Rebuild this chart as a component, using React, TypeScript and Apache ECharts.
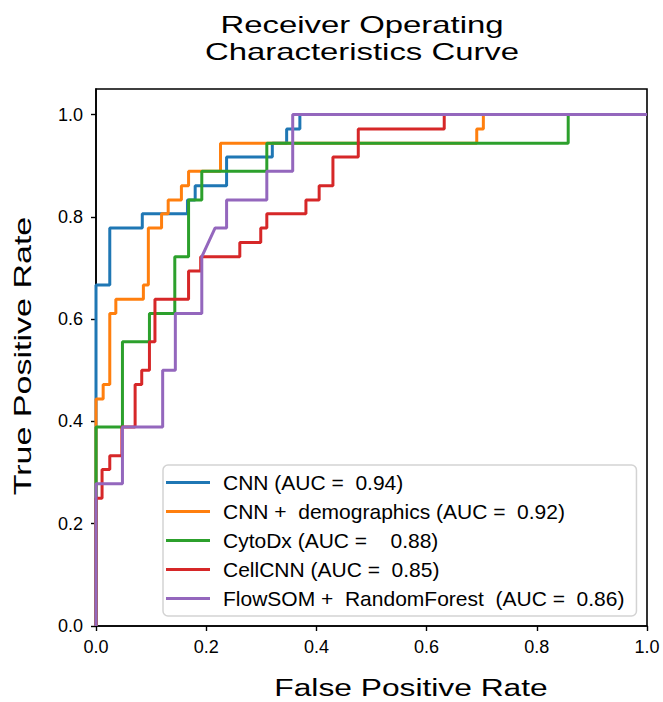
import React, { useEffect, useRef } from "react";
import * as echarts from "echarts";

const FONT = "Liberation Sans, Arial, Helvetica, sans-serif";

const seriesNames = [
  "CNN (AUC =  0.94)",
  "CNN +  demographics (AUC =  0.92)",
  "CytoDx (AUC =    0.88)",
  "CellCNN (AUC =  0.85)",
  "FlowSOM +  RandomForest  (AUC =  0.86)",
];
const seriesColors = ["#1f77b4", "#ff7f0e", "#2ca02c", "#d62728", "#9467bd"];

const cnnFpr = [0, 0, 0.025, 0.025, 0.084, 0.084, 0.166, 0.166, 0.18, 0.18, 0.237, 0.237, 0.32, 0.32, 0.346, 0.346, 0.37, 0.37, 1];
const cnnTpr = [0, 0.667, 0.667, 0.778, 0.778, 0.806, 0.806, 0.833, 0.833, 0.861, 0.861, 0.917, 0.917, 0.944, 0.944, 0.972, 0.972, 1, 1];

const demoFpr = [0, 0, 0.013, 0.013, 0.025, 0.025, 0.036, 0.036, 0.086, 0.086, 0.095, 0.095, 0.119, 0.119, 0.131, 0.131, 0.155, 0.155, 0.168, 0.168, 0.226, 0.226, 0.691, 0.691, 0.703, 0.703, 1];
const demoTpr = [0, 0.444, 0.444, 0.472, 0.472, 0.611, 0.611, 0.639, 0.639, 0.667, 0.667, 0.778, 0.778, 0.806, 0.806, 0.833, 0.833, 0.861, 0.861, 0.889, 0.889, 0.944, 0.944, 0.972, 0.972, 1, 1];

const cytoFpr = [0, 0, 0.048, 0.048, 0.097, 0.097, 0.143, 0.143, 0.168, 0.168, 0.192, 0.192, 0.31, 0.31, 0.857, 0.857, 1];
const cytoTpr = [0, 0.389, 0.389, 0.556, 0.556, 0.611, 0.611, 0.722, 0.722, 0.833, 0.833, 0.889, 0.889, 0.944, 0.944, 1, 1];

const cellFpr = [0, 0, 0.011, 0.011, 0.025, 0.025, 0.047, 0.047, 0.071, 0.071, 0.083, 0.083, 0.097, 0.097, 0.107, 0.107, 0.168, 0.168, 0.19, 0.19, 0.261, 0.261, 0.299, 0.299, 0.31, 0.31, 0.381, 0.381, 0.405, 0.405, 0.43, 0.43, 0.476, 0.476, 0.632, 0.632, 1];
const cellTpr = [0, 0.25, 0.25, 0.306, 0.306, 0.333, 0.333, 0.389, 0.389, 0.472, 0.472, 0.5, 0.5, 0.556, 0.556, 0.639, 0.639, 0.694, 0.694, 0.722, 0.722, 0.75, 0.75, 0.778, 0.778, 0.806, 0.806, 0.833, 0.833, 0.861, 0.861, 0.917, 0.917, 0.972, 0.972, 1, 1];

const flowFpr = [0, 0, 0.048, 0.048, 0.121, 0.121, 0.144, 0.144, 0.192, 0.192, 0.216, 0.237, 0.237, 0.31, 0.31, 0.357, 0.357, 1];
const flowTpr = [0, 0.278, 0.278, 0.389, 0.389, 0.5, 0.5, 0.611, 0.611, 0.722, 0.778, 0.778, 0.833, 0.833, 0.889, 0.889, 1, 1];

const xTicks = [0, 0.2, 0.4, 0.6, 0.8, 1.0];
const yTicks = [0, 0.2, 0.4, 0.6, 0.8, 1.0];

const allFpr = [cnnFpr, demoFpr, cytoFpr, cellFpr, flowFpr];
const allTpr = [cnnTpr, demoTpr, cytoTpr, cellTpr, flowTpr];

export default function App() {
  const ref = useRef<HTMLDivElement>(null);
  useEffect(() => {
    if (!ref.current) return;
    const chart = echarts.init(ref.current, null, { renderer: "svg" });
    const axisCommon = {
      type: "value" as const,
      axisLine: { show: true, lineStyle: { color: "#000", width: 1.6 } },
      axisTick: { show: true, length: 5, lineStyle: { color: "#000", width: 1.4 } },
      splitLine: { show: false },
      axisLabel: {
        color: "#000",
        fontSize: 18,
        fontFamily: FONT,
        margin: 12,
        formatter: (v: number) => v.toFixed(1),
      },
    };
    chart.setOption({
      animation: false,
      backgroundColor: "#fff",
      grid: {
        left: 96,
        right: 16,
        top: 89,
        bottom: 76,
        show: true,
        borderColor: "#000",
        borderWidth: 1.6,
        containLabel: false,
        outerBoundsMode: "none",
      },
      xAxis: {
        ...axisCommon,
        min: 0,
        max: 1,
        interval: 0.2,
        axisLabel: { ...axisCommon.axisLabel, customValues: xTicks },
        axisTick: { ...axisCommon.axisTick, customValues: xTicks },
      },
      yAxis: {
        ...axisCommon,
        min: 0,
        max: 1.05,
        interval: 0.2,
        axisLabel: { ...axisCommon.axisLabel, margin: 13, customValues: yTicks },
        axisTick: { ...axisCommon.axisTick, customValues: yTicks },
      },
      legend: {
        show: true,
        orient: "vertical",
        left: 163,
        top: 465,
        icon: "rect",
        itemWidth: 44,
        itemHeight: 3,
        itemGap: 8,
        padding: [7, 12, 7, 3],
        backgroundColor: "#fff",
        borderColor: "#d3d3d3",
        borderWidth: 1.5,
        borderRadius: 5,
        data: seriesNames,
        textStyle: {
          color: "#000",
          fontSize: 21,
          fontFamily: FONT,
          lineHeight: 20,
          padding: [0, 0, 0, 8],
        },
      },
      series: seriesNames.map((name, i) => ({
        name,
        type: "line",
        data: allFpr[i].map((x, j) => [x, allTpr[i][j]]),
        showSymbol: false,
        symbol: "none",
        lineStyle: { color: seriesColors[i], width: 3 },
        itemStyle: { color: seriesColors[i] },
        z: 2 + i,
      })),
      graphic: [
        {
          type: "text",
          x: 362,
          y: 24.7,
          scaleX: 1.43,
          style: {
            text: "Receiver Operating",
            fontSize: 23,
            fontFamily: FONT,
            fill: "#000",
            align: "center",
            verticalAlign: "middle",
          },
        },
        {
          type: "text",
          x: 362,
          y: 51.7,
          scaleX: 1.43,
          style: {
            text: "Characteristics Curve",
            fontSize: 23,
            fontFamily: FONT,
            fill: "#000",
            align: "center",
            verticalAlign: "middle",
          },
        },
        {
          type: "text",
          x: 411,
          y: 688,
          scaleX: 1.38,
          style: {
            text: "False Positive Rate",
            fontSize: 23,
            fontFamily: FONT,
            fill: "#000",
            align: "center",
            verticalAlign: "middle",
          },
        },
        {
          type: "text",
          x: 23,
          y: 356,
          rotation: Math.PI / 2,
          scaleX: 1.48,
          style: {
            text: "True Positive Rate",
            fontSize: 23,
            fontFamily: FONT,
            fill: "#000",
            align: "center",
            verticalAlign: "middle",
          },
        },
      ],
    });
    return () => chart.dispose();
  }, []);
  return (
    <div
      ref={ref}
      style={{ position: "absolute", left: 0, top: 0, width: 663, height: 702 }}
    />
  );
}
